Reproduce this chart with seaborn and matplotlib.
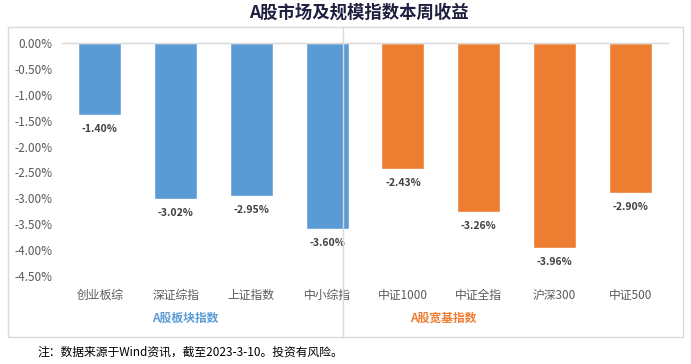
import matplotlib
matplotlib.use("Agg")
import matplotlib.pyplot as plt
import seaborn as sns
import pandas as pd
from matplotlib.lines import Line2D
from matplotlib.patches import Rectangle

sns.set_style("white")
plt.rcParams['font.family'] = ['Noto Sans CJK SC', 'DejaVu Sans']

categories = ["创业板综", "深证综指", "上证指数", "中小综指", "中证1000", "中证全指", "沪深300", "中证500"]
returns = [-1.40, -3.02, -2.95, -3.60, -2.43, -3.26, -3.96, -2.90]
groups = ["A股板块指数"] * 4 + ["A股宽基指数"] * 4
yticks = [0, -0.5, -1.0, -1.5, -2.0, -2.5, -3.0, -3.5, -4.0, -4.5]

blue = "#5B9BD5"
orange = "#ED7D31"
df = pd.DataFrame({"name": categories, "ret": returns, "group": groups})

fig = plt.figure(figsize=(6.91, 3.64), dpi=100)
ax = fig.add_axes([62 / 691, 1 - 276 / 364, 606 / 691, 233 / 364])

sns.barplot(data=df, x="name", y="ret", hue="group", palette=[blue, orange],
            width=0.57, dodge=False, legend=False, saturation=1, ax=ax)

ax.set_ylim(-4.5, 0)
ax.set_xlim(-0.5, 7.5)
ax.set_yticks(yticks)
ax.set_yticklabels([f"{v:.2f}%" for v in yticks], fontsize=8.5, color="#595959")
ax.set_xticks([])
ax.set_xlabel("")
ax.set_ylabel("")
ax.tick_params(axis="y", length=0, pad=7)
for s in ["left", "right", "bottom"]:
    ax.spines[s].set_visible(False)
ax.spines["top"].set_color("#D9D9D9")
ax.spines["top"].set_linewidth(1)

for i, (n, v) in enumerate(zip(categories, returns)):
    ax.annotate(f"{v:.2f}%", (i, v), xytext=(0, -10), textcoords="offset points",
                ha="center", va="center", fontsize=7.5, fontweight="bold", color="#404040")
    ax.annotate(n, (i, -4.5), xytext=(0, -14), textcoords="offset points",
                ha="center", va="center", fontsize=8.5, color="#595959", annotation_clip=False)

fig.text(185 / 691, 1 - 318 / 364, "A股板块指数", ha="center", va="center",
         fontsize=8.5, fontweight="bold", color=blue)
fig.text(443 / 691, 1 - 318 / 364, "A股宽基指数", ha="center", va="center",
         fontsize=8.5, fontweight="bold", color=orange)

# outer frame and separator
fig.add_artist(Rectangle((8 / 691, 1 - 337 / 364), 675 / 691, 310 / 364,
                         transform=fig.transFigure, fill=False, edgecolor="#D9D9D9", lw=1))
fig.add_artist(Line2D([343 / 691, 343 / 691], [1 - 337 / 364, 1 - 27 / 364],
                      transform=fig.transFigure, color="#D9D9D9", lw=1))

fig.text(0.52, 1 - 13 / 364, "A股市场及规模指数本周收益", ha="center", va="center",
         fontsize=12.5, fontweight="bold", color="#1F1F3F")
fig.text(37 / 691, 1 - 352 / 364, "注：数据来源于Wind资讯，截至2023-3-10。投资有风险。",
         ha="left", va="center", fontsize=8.5, color="#000000")

fig.savefig("out.png", dpi=100)
